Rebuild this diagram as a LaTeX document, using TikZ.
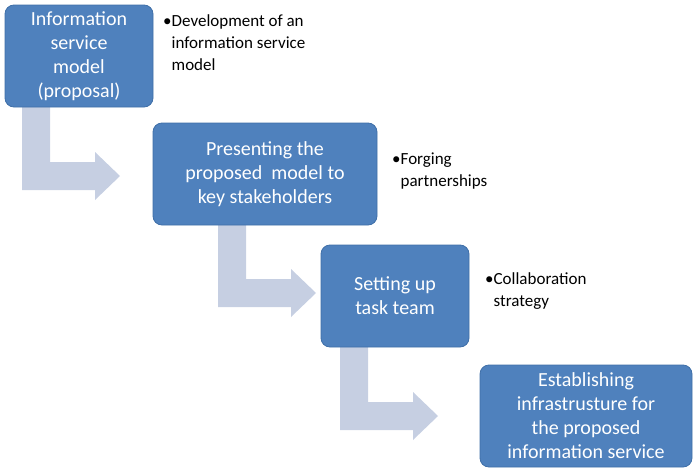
\documentclass[tikz,border=0pt]{standalone}
\usepackage{fontspec}
\setmainfont{Carlito}
\definecolor{boxblue}{HTML}{4F81BD}
\definecolor{boxedge}{HTML}{3F6FA8}
\definecolor{arrowgray}{HTML}{C6CFE2}
\begin{document}
\begin{tikzpicture}[x=1pt,y=-1pt,
  stepbox/.style={fill=boxblue,draw=boxedge,line width=0.8pt,rounded corners=9pt,text=white,align=center,
    font=\fontsize{20}{24}\selectfont,inner sep=0pt},
  bullettext/.style={anchor=north west,align=left,font=\fontsize{17}{22}\selectfont,inner sep=0pt},
  bentarrow/.style={fill=arrowgray,draw=none}]
\useasboundingbox (0,0) rectangle (696,471);
% arrows
\foreach \x/\y/\l in {22/107/83, 218/225/82, 340/347/83}{
  \fill[arrowgray] (\x,\y) -- ++(28,0) -- ++(0,\l-28) -- ++(45,0) -- ++(0,-10) -- ++(25,24) -- ++(-25,24) -- ++(0,-10) -- ++(-73,0) -- cycle;
}
\node[stepbox,minimum width=148pt,minimum height=102pt] (b1) at (79,56) {Information\\service\\model\\(proposal)};
\node[stepbox,minimum width=224pt,minimum height=102pt] (b2) at (265,174) {Presenting the\\proposed\ \ model to\\key stakeholders};
\node[stepbox,minimum width=148pt,minimum height=102pt] (b3) at (395,296) {Setting up\\task team};
\node[stepbox,minimum width=212pt,minimum height=102pt] (b4) at (586,416) {Establishing\\infrastrusture for\\the proposed\\information service};
\node[bullettext] (t1) at (163,14) {•Development of an\\\hphantom{•}information service\\\hphantom{•}model};
\node[bullettext] (t2) at (392,153) {•Forging\\\hphantom{•}partnerships};
\node[bullettext] (t3) at (485,272) {•Collaboration\\\hphantom{•}strategy};
\end{tikzpicture}
\end{document}
